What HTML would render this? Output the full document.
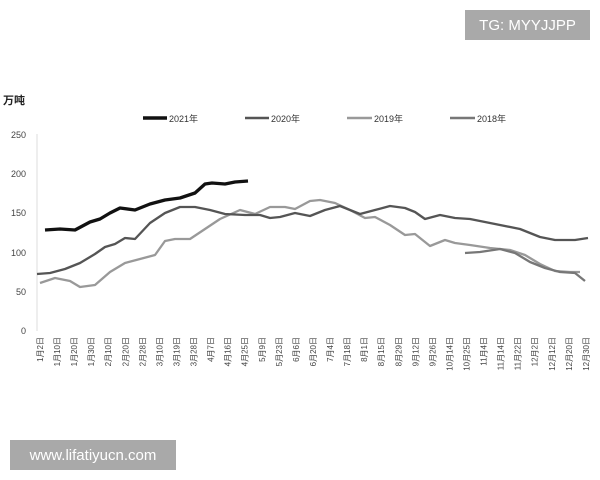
<!DOCTYPE html><html><head><meta charset="utf-8"><style>
body{margin:0;width:600px;height:480px;background:#fff;overflow:hidden;position:relative;font-family:"Liberation Sans","Noto Sans CJK SC",sans-serif}
.wm{position:absolute;background:#a9a9a9;color:#fff;font-size:15px;display:flex;align-items:center;justify-content:center}
</style></head><body>
<svg width="600" height="480" style="position:absolute;left:0;top:0" font-family="Liberation Sans, Noto Sans CJK SC, sans-serif">
<text x="3" y="104" font-size="11" font-weight="bold" fill="#222">万吨</text>
<g font-size="9" fill="#444" text-anchor="end">
<text x="26" y="138">250</text><text x="26" y="177">200</text><text x="26" y="216">150</text><text x="26" y="256">100</text><text x="26" y="295">50</text><text x="26" y="334">0</text></g>
<line x1="37" y1="134" x2="37" y2="331" stroke="#ddd"/>
<g font-size="9" fill="#333">
<line x1="143" y1="118" x2="167" y2="118" stroke="#111" stroke-width="3.5"/><text x="169" y="122">2021年</text>
<line x1="245" y1="118" x2="269" y2="118" stroke="#555" stroke-width="2.5"/><text x="271" y="122">2020年</text>
<line x1="347" y1="118" x2="372" y2="118" stroke="#999" stroke-width="2.5"/><text x="374" y="122">2019年</text>
<line x1="450" y1="118" x2="475" y2="118" stroke="#777" stroke-width="2.5"/><text x="477" y="122">2018年</text></g>
<g fill="none" stroke-linejoin="round" stroke-width="2.3">
<polyline stroke="#999" points="40,283 55,278 70,281 80,287 95,285 110,272 125,263 140,259 155,255 165,241 175,239 190,239 205,229 220,219 240,210 255,214 270,207 285,207 295,209 310,201 320,200 335,203 350,210 365,218 375,217 390,225 405,235 415,234 430,246 445,240 455,243 470,245 490,248 510,250 525,255 540,264 555,271 570,272 580,272"/>
<polyline stroke="#555" points="37,274 50,273 65,269 80,263 95,254 105,247 115,244 125,238 135,239 150,223 165,213 180,207 195,207 210,210 225,214 245,215 260,215 270,218 280,217 295,213 310,216 325,210 340,206 350,210 360,214 375,210 390,206 405,208 415,212 425,219 440,215 455,218 470,219 490,223 520,229 540,237 555,240 575,240 588,238"/>
<polyline stroke="#777" points="465,253 480,252 500,249 515,253 530,262 545,268 560,272 575,273 585,281"/>
<polyline stroke="#111" stroke-width="3.3" points="45,230 60,229 75,230 90,222 100,219 110,213 120,208 135,210 150,204 165,200 180,198 195,193 205,184 212,183 225,184 235,182 248,181"/>
</g>
<g font-size="8" fill="#444" id="xl"></g>
</svg>
<div class="wm" style="left:465px;top:10px;width:125px;height:30px">TG: MYYJJPP</div>
<div class="wm" style="left:10px;top:440px;width:166px;height:30px">www.lifatiyucn.com</div>
<script>
var L="1月2日,1月10日,1月20日,1月30日,2月10日,2月20日,2月28日,3月10日,3月19日,3月28日,4月7日,4月16日,4月25日,5月9日,5月23日,6月6日,6月20日,7月4日,7月18日,8月1日,8月15日,8月29日,9月12日,9月26日,10月14日,10月25日,11月4日,11月14日,11月22日,12月2日,12月12日,12月20日,12月30日".split(",");
var g=document.getElementById("xl"),s="";
L.forEach(function(t,i){var x=43+i*17.06;s+='<text x="'+x+'" y="337" text-anchor="end" transform="rotate(-90 '+x+' 337)">'+t+'</text>';});
g.innerHTML=s;
</script>
</body></html>
